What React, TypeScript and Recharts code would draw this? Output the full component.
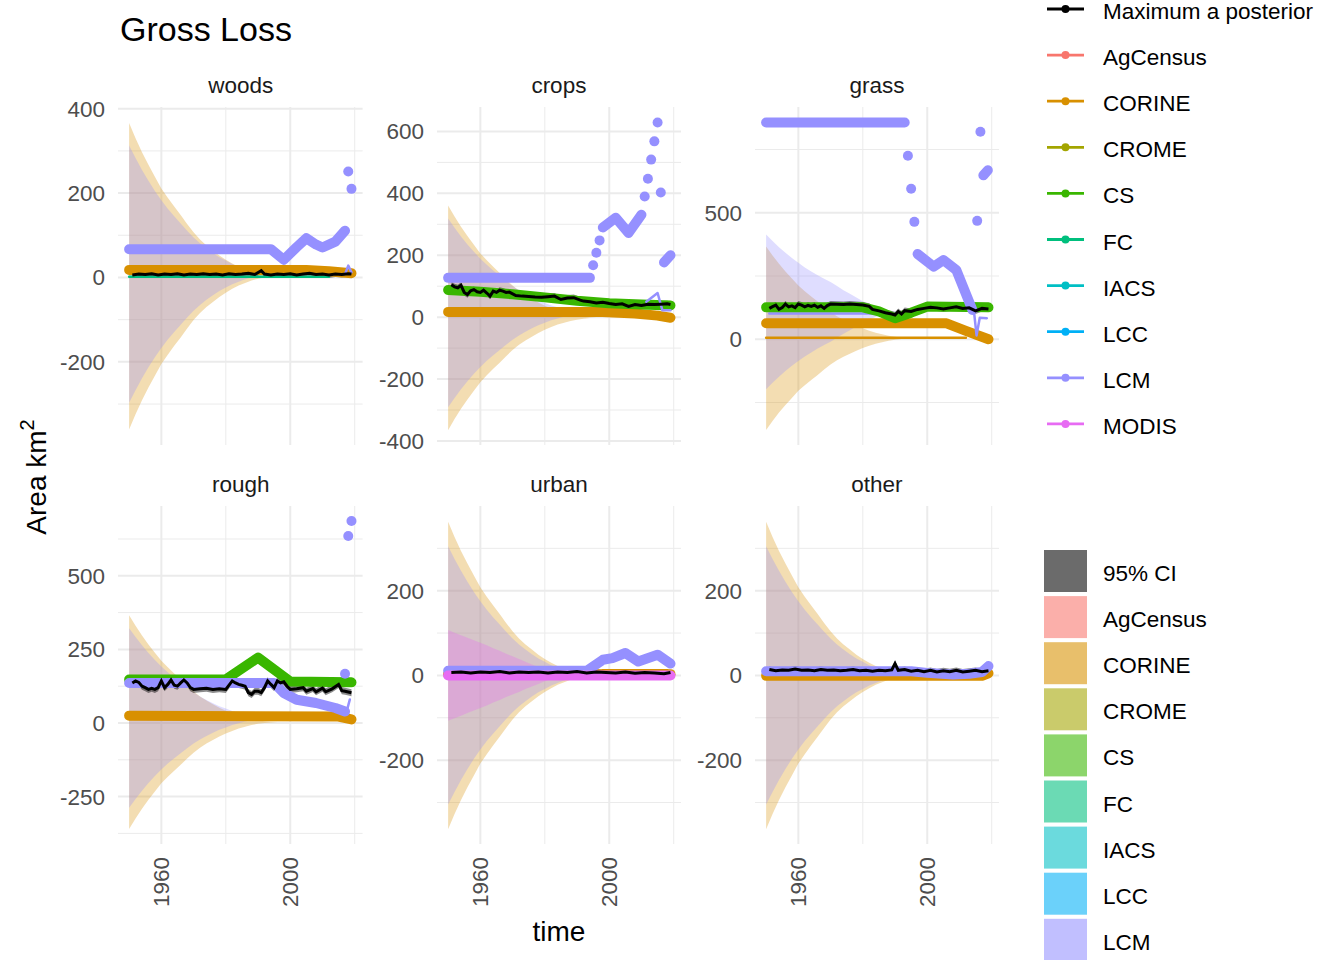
import React from 'react'
import { ComposedChart, Line, Area, XAxis, YAxis, CartesianGrid } from 'recharts'

type Pt = [number, number]

const FONT = '"Liberation Sans", Arial, Helvetica, sans-serif'

// ggplot hue palette used by the sources
const COLOURS: Record<string, string> = {
  MAP: '#000000',
  AgCensus: '#F8766D',
  CORINE: '#D89000',
  CROME: '#A3A500',
  CS: '#39B600',
  FC: '#00BF7D',
  IACS: '#00BFC4',
  LCC: '#00B0F6',
  LCM: '#9590FF',
  MODIS: '#E76BF3',
}

const colourLegend = ['Maximum a posterior', 'AgCensus', 'CORINE', 'CROME', 'CS', 'FC', 'IACS', 'LCC', 'LCM', 'MODIS']
const colourLegendKeys = ['MAP', 'AgCensus', 'CORINE', 'CROME', 'CS', 'FC', 'IACS', 'LCC', 'LCM', 'MODIS']
const fillLegend = ['95% CI', 'AgCensus', 'CORINE', 'CROME', 'CS', 'FC', 'IACS', 'LCC', 'LCM']
const fillLegendKeys = ['MAP', 'AgCensus', 'CORINE', 'CROME', 'CS', 'FC', 'IACS', 'LCC', 'LCM']

// uncertainty ribbons (half widths, every 2 years)
const ribbonYears = [1950, 1952, 1954, 1956, 1958, 1960, 1962, 1964, 1966, 1968, 1970, 1972, 1974, 1976, 1978, 1980, 1982, 1984, 1986, 1988, 1990, 1992, 1994, 1996]
const corineHalf = [363, 327, 294, 264, 236, 208, 186, 165, 145, 124, 104, 87, 73, 61, 49, 39, 30, 22, 16, 10, 6, 3, 1, 0]
const lcmHalf = [305, 275, 247, 221, 197, 175, 155, 137, 120, 103, 87, 73, 61, 50, 40, 32, 24, 18, 12, 8, 5, 2, 1, 0]
const grassLcmHalf = [306, 280, 256, 234, 213, 194, 176, 160, 145, 131, 118, 102, 86, 72, 57, 42, 30, 20, 12, 6, 2, 0, 0, 0]
const modisHalf = [107, 101, 95, 89, 83, 77, 71, 64, 58, 51, 45, 39, 32, 26, 20, 14, 9, 5, 2, 0, 0, 0, 0, 0]

// maximum a posteriori estimates
const woodsMap: Pt[] = [[1951, 6], [1953, 8], [1955, 7], [1957, 9], [1959, 6], [1961, 8], [1963, 7], [1965, 9], [1967, 6], [1969, 8], [1971, 7], [1973, 9], [1975, 7], [1977, 8], [1979, 6], [1981, 9], [1983, 7], [1985, 8], [1987, 10], [1989, 7], [1991, 16], [1992, 8], [1994, 6], [1996, 8], [1998, 7], [2000, 9], [2002, 6], [2004, 8], [2006, 10], [2008, 7], [2010, 8], [2012, 6], [2014, 8], [2016, 7], [2018, 9], [2019, 8]]
const cropsMap: Pt[] = [[1951, 105], [1952, 98], [1953, 95], [1954, 103], [1955, 80], [1956, 73], [1957, 85], [1958, 89], [1959, 82], [1960, 80], [1961, 87], [1962, 78], [1963, 68], [1964, 84], [1965, 80], [1966, 87], [1967, 84], [1968, 80], [1969, 81], [1971, 70], [1973, 68], [1975, 67], [1977, 65], [1979, 64], [1981, 66], [1983, 68], [1985, 57], [1987, 62], [1989, 63], [1991, 55], [1992, 52], [1994, 50], [1996, 46], [1998, 48], [2000, 44], [2002, 41], [2004, 43], [2006, 35], [2008, 41], [2010, 38], [2012, 42], [2014, 41], [2016, 42], [2018, 43], [2019, 41]]
const grassMap: Pt[] = [[1951, 122], [1952, 129], [1953, 135], [1954, 118], [1955, 125], [1956, 139], [1957, 128], [1958, 132], [1959, 125], [1960, 139], [1961, 135], [1962, 128], [1963, 134], [1964, 130], [1965, 135], [1966, 126], [1967, 132], [1968, 122], [1969, 133], [1970, 139], [1972, 138], [1974, 137], [1976, 139], [1978, 137], [1980, 135], [1982, 130], [1983, 118], [1985, 112], [1987, 105], [1989, 100], [1990, 96], [1991, 110], [1992, 100], [1993, 113], [1995, 110], [1997, 118], [1999, 122], [2001, 126], [2003, 124], [2005, 120], [2007, 124], [2009, 128], [2011, 122], [2013, 124], [2015, 112], [2017, 122], [2019, 120]]
const roughMap: Pt[] = [[1951, 136], [1952, 143], [1953, 138], [1954, 125], [1955, 120], [1956, 114], [1957, 118], [1958, 114], [1959, 120], [1960, 143], [1961, 120], [1962, 131], [1963, 146], [1964, 128], [1965, 125], [1966, 136], [1967, 146], [1968, 136], [1969, 120], [1970, 114], [1972, 116], [1974, 118], [1976, 114], [1978, 116], [1980, 114], [1982, 143], [1983, 136], [1984, 131], [1985, 128], [1986, 125], [1987, 103], [1988, 97], [1989, 108], [1990, 108], [1991, 103], [1992, 120], [1993, 143], [1994, 131], [1995, 120], [1996, 143], [1997, 136], [1998, 140], [1999, 125], [2000, 114], [2002, 116], [2004, 120], [2005, 108], [2007, 117], [2008, 106], [2010, 118], [2011, 106], [2013, 116], [2015, 131], [2016, 110], [2017, 108], [2019, 103]]
const urbanMap: Pt[] = [[1951, 7], [1954, 8], [1957, 6], [1960, 8], [1963, 7], [1966, 9], [1969, 6], [1972, 8], [1975, 7], [1978, 8], [1981, 6], [1984, 8], [1987, 7], [1990, 9], [1993, 6], [1996, 8], [1999, 7], [2002, 6], [2005, 8], [2008, 5], [2011, 7], [2014, 6], [2017, 4], [2019, 7]]
const otherMap: Pt[] = [[1951, 14], [1953, 11], [1955, 13], [1957, 12], [1959, 15], [1961, 12], [1963, 13], [1965, 11], [1967, 14], [1969, 12], [1971, 13], [1973, 11], [1975, 12], [1977, 14], [1979, 11], [1981, 12], [1983, 10], [1985, 12], [1987, 11], [1989, 13], [1990, 28], [1991, 12], [1993, 14], [1995, 10], [1997, 12], [1999, 9], [2001, 12], [2003, 8], [2005, 11], [2007, 9], [2009, 12], [2011, 8], [2013, 10], [2015, 12], [2017, 9], [2019, 11]]

// source estimates
const woodsCorine: Pt[] = [[1950, 18], [2005, 18], [2012, 15], [2019, 10]]
const woodsFc: Pt[] = [[1950, 2], [2012, 2]]
const woodsLcm: Pt[] = [[1950, 67], [1994, 67], [1998, 42], [2002, 72], [2005, 93], [2008, 78], [2010, 71], [2014, 85], [2017, 111]]
const woodsLcmPts: Pt[] = [[2018, 251], [2019, 210]]
const woodsLcmThin: Pt[] = [[2017, 8], [2018, 28], [2019, 12]]

const cropsCorine: Pt[] = [[1950, 17], [1998, 17], [2008, 12], [2015, 5], [2019, -2]]
const cropsCs: Pt[] = [[1950, 88], [1960, 82], [1970, 74], [1980, 64], [1990, 53], [2000, 45], [2010, 41], [2019, 38]]
const cropsLcmA: Pt[] = [[1950, 127], [1994, 127]]
const cropsLcmPtsA: Pt[] = [[1995, 168], [1996, 208], [1997, 248]]
const cropsLcmB: Pt[] = [[1998, 290], [2002, 321], [2006, 272], [2010, 331]]
const cropsLcmPtsB: Pt[] = [[2011, 390], [2012, 447], [2013, 509], [2014, 568], [2015, 629], [2016, 403]]
const cropsLcmC: Pt[] = [[2017, 177], [2019, 200]]
const cropsLcmThin: Pt[] = [[2011.5, 50], [2015, 78], [2016.5, 22], [2019, 22]]

const grassCorineThin: Pt[] = [[1950, 6], [2012, 6]]
const grassCorine: Pt[] = [[1950, 63], [2006, 63], [2012, 33], [2019, 0]]
const grassLcmLow: Pt[] = [[1951, 102], [1986, 102]]
const grassCs: Pt[] = [[1950, 126], [1980, 126], [1985, 110], [1990, 83], [1995, 105], [2000, 129], [2019, 126]]
const grassLcmA: Pt[] = [[1950, 857], [1993, 857]]
const grassLcmPtsA: Pt[] = [[1994, 725], [1995, 595], [1996, 464]]
const grassLcmB: Pt[] = [[1997, 337], [2002, 287], [2005, 313], [2009, 274], [2014, 116]]
const grassLcmPtsB: Pt[] = [[2015.5, 468], [2016.5, 820]]
const grassLcmC: Pt[] = [[2017.4, 648], [2018.8, 668]]
const grassLcmThin: Pt[] = [[2014.5, 110], [2015.3, 15], [2016.3, 85], [2018.5, 83]]

const roughCorine: Pt[] = [[1950, 25], [2015, 22], [2019, 12]]
const roughCs: Pt[] = [[1950, 148], [1980, 148], [1990, 222], [2000, 141], [2019, 138]]
const roughLcm: Pt[] = [[1950, 136], [1995, 136], [1998, 102], [2002, 79], [2008, 68], [2014, 51], [2017, 39]]
const roughLcmPts: Pt[] = [[2017, 167], [2018, 635], [2019, 686]]
const roughLcmThin: Pt[] = [[2017.4, 35], [2018.5, 80]]

const urbanCorine: Pt[] = [[1950, 3], [2019, 3]]
const urbanCorineThin: Pt[] = [[1998, 12], [2018, 12]]
const urbanLcm: Pt[] = [[1950, 11], [1993, 11], [1998, 37], [2001, 41], [2005, 53], [2009, 33], [2015, 49], [2019, 28]]
const urbanModis: Pt[] = [[1950, 0], [2019, 0]]

const otherCorine: Pt[] = [[1950, -1], [2017, -1], [2019, 5]]
const otherLcm: Pt[] = [[1950, 10], [1995, 10], [2000, 6], [2008, 2], [2013, 4], [2017, 8], [2019, 22]]

// layout
const X_DOMAIN: [number, number] = [1946.55, 2022.45]
const MAJOR_X = [1960, 2000]
const MINOR_X = [1980, 2020]
const COL_LEFT = [118.4, 436.6, 754.6]
const ROW_TOP = [107.25, 506.25]
const PW = 244.6
const PH = 338
const YW = 90
const XH = 80
const PAD = 16 // room for the end tick labels

type Kind = 'thick' | 'thin' | 'dots'
interface Series { src: string; kind: Kind; pts: Pt[] }
interface PanelDef {
  name: string
  col: number
  row: number
  domain: [number, number]
  majors: number[]
  minors: number[]
  corineCentre: number
  lcmCentre: number
  lcmWidths: number[]
  modis?: boolean
  ci: number
  map: Pt[]
  series: Series[]
}

const panels: PanelDef[] = [
  {
    name: 'woods', col: 0, row: 0, domain: [-397, 404], majors: [-200, 0, 200, 400], minors: [-300, -100, 100, 300],
    corineCentre: 3, lcmCentre: 8, lcmWidths: lcmHalf, ci: 7, map: woodsMap,
    series: [
      { src: 'CORINE', kind: 'thick', pts: woodsCorine },
      { src: 'FC', kind: 'thin', pts: woodsFc },
      { src: 'LCM', kind: 'thick', pts: woodsLcm },
      { src: 'LCM', kind: 'dots', pts: woodsLcmPts },
      { src: 'LCM', kind: 'thin', pts: woodsLcmThin },
    ],
  },
  {
    name: 'crops', col: 1, row: 0, domain: [-413, 679], majors: [-400, -200, 0, 200, 400, 600], minors: [-300, -100, 100, 300, 500],
    corineCentre: -2, lcmCentre: 14, lcmWidths: lcmHalf, ci: 10, map: cropsMap,
    series: [
      { src: 'CORINE', kind: 'thick', pts: cropsCorine },
      { src: 'CS', kind: 'thick', pts: cropsCs },
      { src: 'LCM', kind: 'thick', pts: cropsLcmA },
      { src: 'LCM', kind: 'dots', pts: cropsLcmPtsA },
      { src: 'LCM', kind: 'thick', pts: cropsLcmB },
      { src: 'LCM', kind: 'dots', pts: cropsLcmPtsB },
      { src: 'LCM', kind: 'thick', pts: cropsLcmC },
      { src: 'LCM', kind: 'thin', pts: cropsLcmThin },
    ],
  },
  {
    name: 'grass', col: 2, row: 0, domain: [-418, 918], majors: [0, 500], minors: [-250, 250, 750],
    corineCentre: 4, lcmCentre: 108, lcmWidths: grassLcmHalf, ci: 12, map: grassMap,
    series: [
      { src: 'CORINE', kind: 'thin', pts: grassCorineThin },
      { src: 'CORINE', kind: 'thick', pts: grassCorine },
      { src: 'LCM', kind: 'thin', pts: grassLcmLow },
      { src: 'CS', kind: 'thick', pts: grassCs },
      { src: 'LCM', kind: 'thick', pts: grassLcmA },
      { src: 'LCM', kind: 'dots', pts: grassLcmPtsA },
      { src: 'LCM', kind: 'thick', pts: grassLcmB },
      { src: 'LCM', kind: 'dots', pts: grassLcmPtsB },
      { src: 'LCM', kind: 'thick', pts: grassLcmC },
      { src: 'LCM', kind: 'thin', pts: grassLcmThin },
    ],
  },
  {
    name: 'rough', col: 0, row: 1, domain: [-411, 737], majors: [-250, 0, 250, 500], minors: [-375, -125, 125, 375, 625],
    corineCentre: 3, lcmCentre: 17, lcmWidths: lcmHalf, ci: 12, map: roughMap,
    series: [
      { src: 'CORINE', kind: 'thick', pts: roughCorine },
      { src: 'CS', kind: 'thick', pts: roughCs },
      { src: 'LCM', kind: 'thick', pts: roughLcm },
      { src: 'LCM', kind: 'dots', pts: roughLcmPts },
      { src: 'LCM', kind: 'thin', pts: roughLcmThin },
    ],
  },
  {
    name: 'urban', col: 1, row: 1, domain: [-398, 400], majors: [-200, 0, 200], minors: [-300, -100, 100, 300],
    corineCentre: 0, lcmCentre: 0, lcmWidths: lcmHalf, modis: true, ci: 6, map: urbanMap,
    series: [
      { src: 'CORINE', kind: 'thick', pts: urbanCorine },
      { src: 'CORINE', kind: 'thin', pts: urbanCorineThin },
      { src: 'LCM', kind: 'thick', pts: urbanLcm },
      { src: 'MODIS', kind: 'thick', pts: urbanModis },
    ],
  },
  {
    name: 'other', col: 2, row: 1, domain: [-398, 400], majors: [-200, 0, 200], minors: [-300, -100, 100, 300],
    corineCentre: 0, lcmCentre: 0, lcmWidths: lcmHalf, ci: 7, map: otherMap,
    series: [
      { src: 'CORINE', kind: 'thick', pts: otherCorine },
      { src: 'LCM', kind: 'thick', pts: otherLcm },
    ],
  },
]

const toXY = (pts: Pt[]) => pts.map(([x, y]) => ({ x, y }))
const ribbon = (half: number[], c: number) => ribbonYears.map((x, i) => ({ x, r: [c - half[i], c + half[i]] }))
const ciBand = (pts: Pt[], w: number) => pts.map(([x, y]) => ({ x, r: [y - w, y + w] }))

const RotTick = (p: any) => (
  <text
    x={p.x}
    y={p.y}
    transform={`rotate(-90, ${p.x}, ${p.y})`}
    textAnchor="end"
    dy="0.355em"
    fontSize={22.5}
    fill="#4D4D4D"
    fontFamily={FONT}
  >
    {p.payload.value}
  </text>
)

function Panel({ p }: { p: PanelDef }) {
  const bottom = p.row === 1
  const colour = (s: string) => COLOURS[s]
  return (
    <div style={{ position: 'absolute', left: COL_LEFT[p.col] - YW, top: ROW_TOP[p.row] - PAD }}>
      <ComposedChart
        width={YW + PW}
        height={PH + 2 * PAD + (bottom ? XH : 0)}
        margin={{ top: PAD, right: 0, bottom: bottom ? 0 : PAD, left: 0 }}
      >
        <CartesianGrid stroke="#EBEBEB" strokeWidth={1} horizontalValues={p.minors} verticalValues={MINOR_X} />
        <CartesianGrid stroke="#EBEBEB" strokeWidth={2} horizontalValues={p.majors} verticalValues={MAJOR_X} />
        <XAxis
          type="number"
          dataKey="x"
          domain={X_DOMAIN}
          ticks={MAJOR_X}
          interval={0}
          hide={!bottom}
          height={XH + PAD}
          axisLine={false}
          tickLine={false}
          tickSize={0}
          tickMargin={13}
          tick={(props: any) => <RotTick {...props} />}
          allowDataOverflow
        />
        <YAxis
          type="number"
          domain={p.domain}
          ticks={p.majors}
          interval={0}
          width={YW}
          axisLine={false}
          tickLine={false}
          tickSize={0}
          tickMargin={13}
          tick={{ fontSize: 22.5, fill: '#4D4D4D', fontFamily: FONT }}
          allowDataOverflow
        />
        <Area data={ribbon(corineHalf, p.corineCentre)} dataKey="r" type="linear" stroke="none" fill={COLOURS.CORINE} fillOpacity={0.3} isAnimationActive={false} />
        <Area data={ribbon(p.lcmWidths, p.lcmCentre)} dataKey="r" type="linear" stroke="none" fill={COLOURS.LCM} fillOpacity={0.3} isAnimationActive={false} />
        {p.modis && (
          <Area data={ribbon(modisHalf, 0)} dataKey="r" type="linear" stroke="none" fill={COLOURS.MODIS} fillOpacity={0.3} isAnimationActive={false} />
        )}
        {p.series.map((s, i) =>
          s.kind === 'dots' ? (
            <Line
              key={i}
              data={toXY(s.pts)}
              dataKey="y"
              type="linear"
              stroke="none"
              dot={{ r: 5, fill: colour(s.src), stroke: 'none' }}
              activeDot={false}
              isAnimationActive={false}
            />
          ) : (
            <Line
              key={i}
              data={toXY(s.pts)}
              dataKey="y"
              type="linear"
              stroke={colour(s.src)}
              strokeWidth={s.kind === 'thick' ? 10 : 2.5}
              strokeLinecap="round"
              strokeLinejoin="round"
              dot={false}
              activeDot={false}
              isAnimationActive={false}
            />
          )
        )}
        <Area data={ciBand(p.map, p.ci)} dataKey="r" type="linear" stroke="none" fill="#000000" fillOpacity={0.45} isAnimationActive={false} />
        <Line data={toXY(p.map)} dataKey="y" type="linear" stroke="#000000" strokeWidth={3} dot={false} activeDot={false} isAnimationActive={false} />
      </ComposedChart>
    </div>
  )
}

function Overlay() {
  return (
    <svg width={1344} height={960} style={{ position: 'absolute', left: 0, top: 0 }} fontFamily={FONT}>
      <text x={120} y={41} fontSize={34} fill="#000">Gross Loss</text>
      {panels.map((p) => (
        <text key={p.name} x={COL_LEFT[p.col] + PW / 2} y={ROW_TOP[p.row] - 14} textAnchor="middle" fontSize={22.5} fill="#1A1A1A">
          {p.name}
        </text>
      ))}
      <text x={559} y={941} textAnchor="middle" fontSize={28} fill="#000">time</text>
      <text x={46} y={477} transform="rotate(-90, 46, 477)" textAnchor="middle" fontSize={28} fill="#000">
        Area km<tspan fontSize={20} dy={-12}>2</tspan>
      </text>
      {colourLegend.map((label, i) => {
        const cy = 9 + i * 46.1
        const c = COLOURS[colourLegendKeys[i]]
        return (
          <g key={label}>
            <line x1={1047} x2={1084} y1={cy} y2={cy} stroke={c} strokeWidth={2.8} />
            <circle cx={1065.5} cy={cy} r={4} fill={c} />
            <text x={1103} y={cy + 10} fontSize={22.5} fill="#000">{label}</text>
          </g>
        )
      })}
      {fillLegend.map((label, i) => {
        const y = 550 + i * 46.1
        return (
          <g key={label}>
            <rect x={1044} y={y} width={43} height={42} fill={COLOURS[fillLegendKeys[i]]} fillOpacity={0.58} />
            <text x={1103} y={y + 31} fontSize={22.5} fill="#000">{label}</text>
          </g>
        )
      })}
    </svg>
  )
}

export default function App() {
  return (
    <div style={{ position: 'absolute', left: 0, top: 0, width: 1344, height: 960, background: '#fff', overflow: 'hidden' }}>
      <Overlay />
      {panels.map((p) => (
        <Panel key={p.name} p={p} />
      ))}
    </div>
  )
}
